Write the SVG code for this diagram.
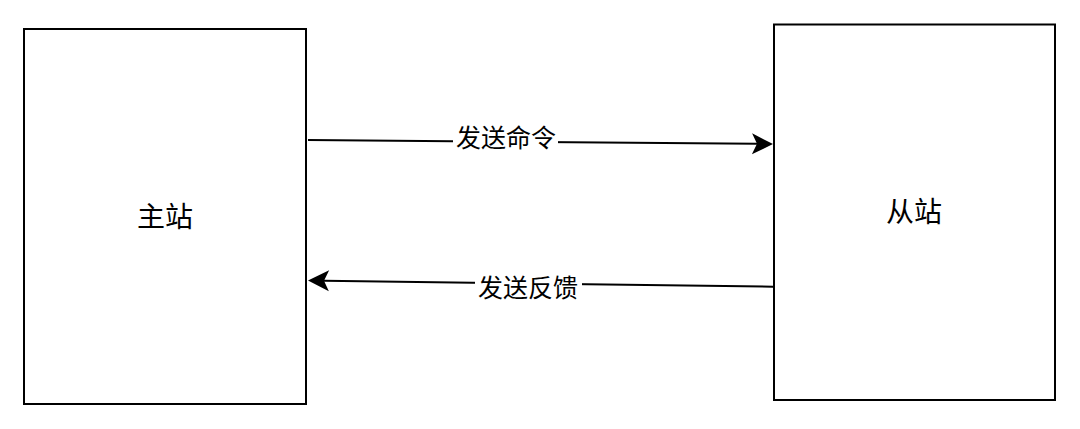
<svg xmlns="http://www.w3.org/2000/svg" width="1080" height="429" viewBox="0 0 1080 429">
<style>
.box{fill:#fff;stroke:#000;stroke-width:2}
.lbl{font-family:"Noto Sans CJK SC","Noto Sans",sans-serif;fill:#000;text-anchor:middle;dominant-baseline:central}
.big{font-size:28px}
.small{font-size:25px}
.edge{fill:none;stroke:#000;stroke-width:2}
.bg{fill:#fff}
</style>
<defs>
<marker id="arrow" markerUnits="userSpaceOnUse" markerWidth="30" markerHeight="30" viewBox="-10 -15 30 30" refX="0" refY="0" orient="auto">
<path d="M16,0 L-5,-10.5 L0,0 L-5,10.5 Z" fill="#000"/>
</marker>
</defs>
<rect width="1080" height="429" fill="#fff"/>
<g id="master">
<rect class="box" x="24" y="29" width="282" height="375"/>
<text class="lbl big" x="165" y="215">主站</text>
</g>
<g id="slave">
<rect class="box" x="774" y="24.5" width="281" height="375.5"/>
<text class="lbl big" x="914" y="210">从站</text>
</g>
<g id="connectors">
<g id="cmd">
<line class="edge" x1="308" y1="140" x2="757" y2="143.86" marker-end="url(#arrow)"/>
<rect class="bg" x="453" y="123" width="105" height="26"/>
<text class="lbl small" x="506" y="136">发送命令</text>
</g>
<g id="feedback">
<line class="edge" x1="773" y1="286.7" x2="324" y2="280.7" marker-end="url(#arrow)"/>
<rect class="bg" x="475" y="273" width="107" height="26"/>
<text class="lbl small" x="528" y="286">发送反馈</text>
</g>
</g>
</svg>
